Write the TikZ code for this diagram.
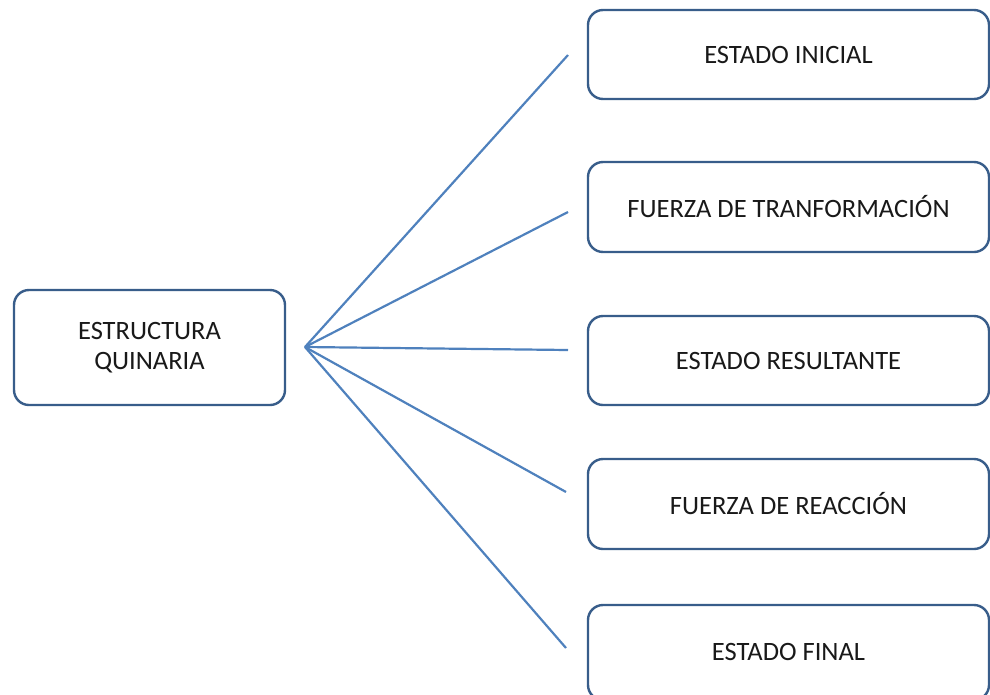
\documentclass[tikz,border=0pt]{standalone}
\usepackage{fontspec}
\setmainfont{Carlito}
\definecolor{boxblue}{RGB}{56,93,138}
\definecolor{lineblue}{RGB}{79,129,189}
\begin{document}
\begin{tikzpicture}[x=1pt,y=1pt,
  box/.style={draw=boxblue, line width=2.4pt, rounded corners=15pt, fill=white,
    font=\fontsize{26.5}{30}\selectfont, text=black!90, align=center, inner sep=0pt},
  link/.style={draw=lineblue, line width=2.2pt}]
\useasboundingbox (0,0) rectangle (990,-694);
\node[box, minimum width=271, minimum height=115] (root) at (149.5,-347.5) {ESTRUCTURA\\QUINARIA};
\node[box, minimum width=401, minimum height=89] (b1) at (788.5,-54.5) {ESTADO INICIAL};
\node[box, minimum width=401, minimum height=90] (b2) at (788.5,-207) {FUERZA DE TRANFORMACIÓN};
\node[box, minimum width=401, minimum height=89] (b3) at (788.5,-360.5) {ESTADO RESULTANTE};
\node[box, minimum width=401, minimum height=90] (b4) at (788.5,-504) {FUERZA DE REACCIÓN};
\node[box, minimum width=401, minimum height=95] (b5) at (788.5,-652.5) {};
\node[font=\fontsize{26.5}{30}\selectfont, text=black!90] (t5) at (b5.center |- 0,-652) {ESTADO FINAL};
\coordinate (hub) at (305,-347);
\coordinate (e1) at (568,-55);
\coordinate (e2) at (568,-212);
\coordinate (e3) at (568,-350);
\coordinate (e4) at (566,-492);
\coordinate (e5) at (566,-648);
\draw[link] (hub) -- (e1);
\draw[link] (hub) -- (e2);
\draw[link] (hub) -- (e3);
\draw[link] (hub) -- (e4);
\draw[link] (hub) -- (e5);
\end{tikzpicture}
\end{document}
